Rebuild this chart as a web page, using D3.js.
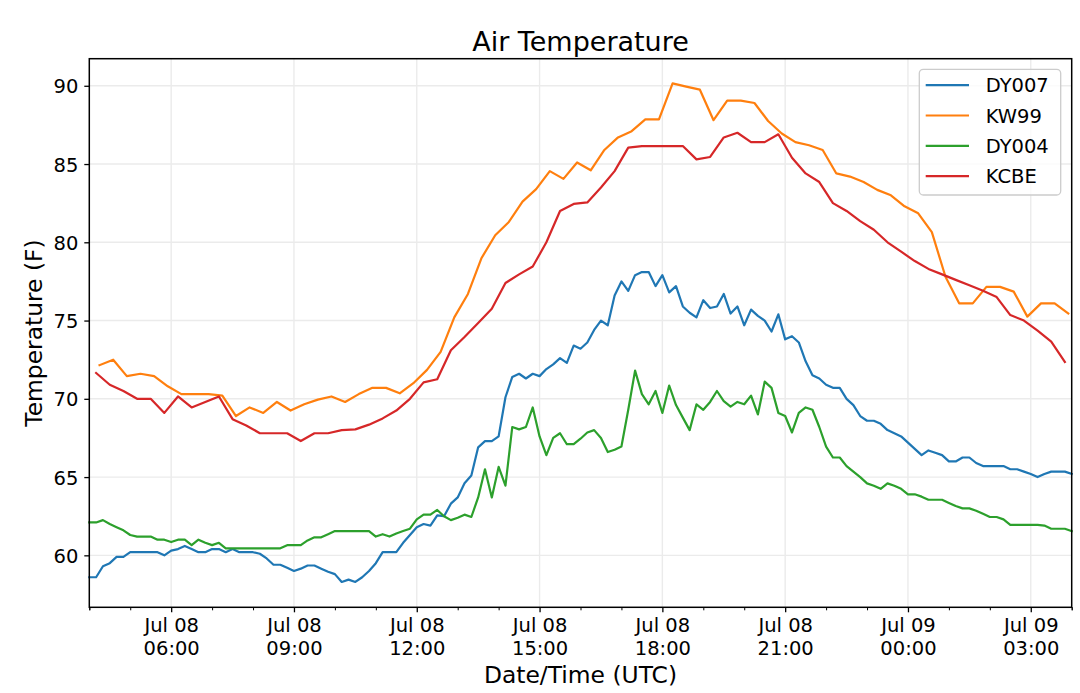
<!DOCTYPE html>
<html>

<head>
    <meta charset="UTF-8" />
    <title>Air Temperature</title>
    <style>
        body {
            margin: 0;
            padding: 0;
            background-color: white;
            font-family: 'DejaVu Sans', sans-serif;
        }

        .grid line {
            stroke: #ebebeb;
            stroke-width: 1.4;
        }

        .tick text {
            font-size: 19.5px;
            fill: black;
        }
    </style>
</head>

<body>

    <svg id="chart" width="1080" height="693"></svg>

    <script src="https://cdnjs.cloudflare.com/ajax/libs/d3/7.8.5/d3.min.js"></script>

    <script>
        const seriesNames = ['DY007', 'KW99', 'DY004', 'KCBE']
        const seriesColors = ['#1f77b4', '#ff7f0e', '#2ca02c', '#d62728']

        // 10-minute stations, first reading Jul 08 04:00 UTC
        const dy007 = [
            58.6, 58.6, 59.3, 59.5, 59.9, 59.9, 60.2, 60.2, 60.2, 60.2, 60.2, 60.0,
            60.3, 60.4, 60.6, 60.4, 60.2, 60.2, 60.4, 60.4, 60.2, 60.4, 60.2, 60.2,
            60.2, 60.1, 59.8, 59.4, 59.4, 59.2, 59.0, 59.15, 59.35, 59.35, 59.15, 58.95,
            58.8, 58.3, 58.45, 58.3, 58.6, 59.0, 59.5, 60.2, 60.2, 60.2, 60.8, 61.3,
            61.8, 62.0, 61.9, 62.55, 62.5, 63.3, 63.7, 64.6, 65.1, 66.9, 67.3, 67.3,
            67.6, 70.1, 71.4, 71.6, 71.3, 71.6, 71.45, 71.9, 72.2, 72.6, 72.3, 73.4,
            73.2, 73.6, 74.4, 75.0, 74.7, 76.6, 77.5, 76.9, 77.9, 78.1, 78.1, 77.2,
            77.9, 76.8, 77.2, 75.9, 75.5, 75.2, 76.3, 75.8, 75.9, 76.7, 75.45, 75.9,
            74.7, 75.7, 75.3, 75.0, 74.3, 75.4, 73.8, 74.0, 73.6, 72.4, 71.5, 71.3,
            70.9, 70.7, 70.7, 70.0, 69.6, 68.9, 68.6, 68.6, 68.4, 68.0, 67.8, 67.6,
            67.2, 66.8, 66.4, 66.7, 66.55, 66.4, 66.0, 66.0, 66.25, 66.25, 65.9, 65.7,
            65.7, 65.7, 65.7, 65.5, 65.5, 65.35, 65.2, 65.0, 65.2, 65.35, 65.35, 65.35,
            65.2
        ]
        const dy004 = [
            62.1, 62.1, 62.25, 62.0, 61.8, 61.6, 61.3, 61.2, 61.2, 61.2, 61.0, 61.0,
            60.85, 61.0, 61.0, 60.65, 61.0, 60.8, 60.65, 60.8, 60.45, 60.45, 60.45, 60.45,
            60.45, 60.45, 60.45, 60.45, 60.45, 60.65, 60.65, 60.65, 60.95, 61.15, 61.15, 61.35,
            61.55, 61.55, 61.55, 61.55, 61.55, 61.55, 61.2, 61.35, 61.2, 61.4, 61.55, 61.7,
            62.3, 62.6, 62.6, 62.9, 62.5, 62.25, 62.4, 62.6, 62.45, 63.7, 65.5, 63.7,
            65.65, 64.45, 68.2, 68.05, 68.2, 69.45, 67.6, 66.4, 67.5, 67.8, 67.1, 67.1,
            67.45, 67.85, 68.0, 67.5, 66.6, 66.75, 66.95, 69.3, 71.8, 70.3, 69.65, 70.5,
            69.1, 70.85, 69.6, 68.8, 68.0, 69.65, 69.3, 69.8, 70.5, 69.85, 69.5, 69.8,
            69.65, 70.2, 69.0, 71.1, 70.7, 69.1, 68.9, 67.85, 69.1, 69.45, 69.3, 68.2,
            66.95, 66.25, 66.25, 65.7, 65.35, 65.0, 64.6, 64.45, 64.25, 64.6, 64.45, 64.25,
            63.9, 63.9, 63.75, 63.55, 63.55, 63.55, 63.35, 63.15, 63.0, 63.0, 62.85, 62.65,
            62.45, 62.45, 62.3, 61.95, 61.95, 61.95, 61.95, 61.95, 61.9, 61.7, 61.7, 61.7,
            61.55
        ]

        // 20-minute stations, first reading 04:15 (KW99) and 04:10 (KCBE)
        const kw99 = [
            72.15, 72.5, 71.45, 71.6, 71.45, 70.8, 70.3, 70.3, 70.3, 70.2, 68.9, 69.45,
            69.1, 69.8, 69.25, 69.65, 69.95, 70.15, 69.8, 70.3, 70.7, 70.7, 70.35, 71.0,
            71.85, 73.0, 75.2, 76.7, 79.0, 80.45, 81.3, 82.6, 83.4, 84.55, 84.05, 85.1,
            84.6, 85.9, 86.7, 87.1, 87.85, 87.85, 90.15, 89.95, 89.75, 87.8, 89.05, 89.05,
            88.9, 87.75, 86.95, 86.4, 86.2, 85.9, 84.4, 84.2, 83.85, 83.35, 83.0, 82.3,
            81.85, 80.65, 77.8, 76.1, 76.1, 77.15, 77.15, 76.85, 75.25, 76.1, 76.1, 75.45
        ]
        const kcbe = [
            71.65, 70.9, 70.5, 70.0, 70.0, 69.1, 70.15, 69.45, 69.8, 70.15, 68.7, 68.3,
            67.8, 67.8, 67.8, 67.3, 67.8, 67.8, 68.0, 68.05, 68.35, 68.75, 69.25, 70.0,
            71.05, 71.25, 73.1, 73.95, 74.85, 75.75, 77.4, 77.95, 78.45, 80.0, 82.0, 82.45,
            82.55, 83.5, 84.55, 86.05, 86.15, 86.15, 86.15, 86.15, 85.3, 85.45, 86.7, 87.0,
            86.4, 86.4, 86.9, 85.4, 84.4, 83.85, 82.5, 82.0, 81.35, 80.8, 80.0, 79.4,
            78.8, 78.3, 77.95, 77.6, 77.25, 76.9, 76.5, 75.35, 75.0, 74.35, 73.65, 72.35
        ]

        const seriesValues = [dy007, kw99, dy004, kcbe]
        const seriesStart = ['04:00', '04:15', '04:10', '04:10'].map((s, i) => i === 2 ? '04:00' : s)
        const seriesStep = [10, 20, 10, 20]

        const yTicks = [60, 65, 70, 75, 80, 85, 90]

        const width = 1080
        const height = 693
        const margin = { top: 58.7, right: 8.3, bottom: 85.7, left: 89.3 }
        const plotW = width - margin.left - margin.right
        const plotH = height - margin.top - margin.bottom

        const day0 = Date.UTC(2019, 6, 8)
        const toTime = hm => {
            const [h, m] = hm.split(':').map(Number)
            return day0 + (h * 60 + m) * 60000
        }

        const series = seriesNames.map((name, s) => ({
            name,
            color: seriesColors[s],
            points: seriesValues[s].map((v, i) => ({
                t: new Date(toTime(seriesStart[s]) + i * seriesStep[s] * 60000),
                v
            }))
        }))

        const x = d3.scaleUtc()
            .domain([new Date(toTime('04:00')), new Date(toTime('04:00') + 24 * 3600000)])
            .range([0, plotW])

        const y = d3.scaleLinear()
            .domain([56.68, 91.73])
            .range([plotH, 0])

        const svg = d3.select('#chart')

        svg.append('rect')
            .attr('width', width)
            .attr('height', height)
            .attr('fill', 'white')

        const g = svg.append('g')
            .attr('transform', `translate(${margin.left},${margin.top})`)

        const majorTicks = x.ticks(d3.utcHour.every(3))
        const minorTicks = x.ticks(d3.utcHour.every(1))
            .filter(d => d.getUTCHours() % 3 !== 0)

        // grid
        g.append('g').attr('class', 'grid')
            .selectAll('line')
            .data(majorTicks)
            .join('line')
            .attr('x1', d => x(d))
            .attr('x2', d => x(d))
            .attr('y1', 0)
            .attr('y2', plotH)

        g.append('g').attr('class', 'grid')
            .selectAll('line')
            .data(yTicks)
            .join('line')
            .attr('x1', 0)
            .attr('x2', plotW)
            .attr('y1', d => y(d))
            .attr('y2', d => y(d))

        // lines
        const line = d3.line()
            .x(d => x(d.t))
            .y(d => y(d.v))

        g.append('g')
            .selectAll('path')
            .data(series)
            .join('path')
            .attr('fill', 'none')
            .attr('stroke', d => d.color)
            .attr('stroke-width', 2.2)
            .attr('stroke-linejoin', 'round')
            .attr('stroke-linecap', 'square')
            .attr('d', d => line(d.points))

        // axes
        const yAxis = g.append('g')
            .call(d3.axisLeft(y).tickValues(yTicks).tickSize(5).tickPadding(6))
        yAxis.select('.domain').remove()
        yAxis.selectAll('.tick line').attr('stroke', 'black').attr('stroke-width', 1.3)
        yAxis.selectAll('.tick text')
            .attr('font-family', "'DejaVu Sans', sans-serif")
            .attr('dy', '0.36em')

        const xAxis = g.append('g')
            .attr('transform', `translate(0,${plotH})`)
            .call(d3.axisBottom(x).tickValues(majorTicks).tickSize(5).tickFormat(''))
        xAxis.select('.domain').remove()
        xAxis.selectAll('.tick line').attr('stroke', 'black').attr('stroke-width', 1.3)
        xAxis.selectAll('.tick text').remove()

        const fmtDay = d3.utcFormat('%b %d')
        const fmtHour = d3.utcFormat('%H:%M')
        const labels = xAxis.selectAll('.tick')
            .append('text')
            .attr('fill', 'black')
            .attr('text-anchor', 'middle')
            .attr('font-family', "'DejaVu Sans', sans-serif")
            .style('font-size', '19.5px')
        labels.append('tspan').attr('x', 0).attr('y', 24.4).text(d => fmtDay(d))
        labels.append('tspan').attr('x', 0).attr('y', 47.7).text(d => fmtHour(d))

        g.append('g')
            .attr('transform', `translate(0,${plotH})`)
            .call(d3.axisBottom(x).tickValues(minorTicks).tickSize(3).tickFormat(''))
            .call(a => a.select('.domain').remove())
            .selectAll('.tick line').attr('stroke', 'black').attr('stroke-width', 1)

        g.append('g')
            .attr('transform', `translate(0,${plotH})`)
            .call(d3.axisBottom(x).tickValues([x.domain()[0], x.domain()[1]]).tickSize(3).tickFormat(''))
            .call(a => a.select('.domain').remove())
            .selectAll('.tick line').attr('stroke', 'black').attr('stroke-width', 1)

        // frame
        g.append('rect')
            .attr('width', plotW)
            .attr('height', plotH)
            .attr('fill', 'none')
            .attr('stroke', 'black')
            .attr('stroke-width', 1.5)

        // titles
        svg.append('text')
            .attr('x', margin.left + plotW / 2)
            .attr('y', 51)
            .attr('text-anchor', 'middle')
            .style('font-size', '27px')
            .text('Air Temperature')

        svg.append('text')
            .attr('x', margin.left + plotW / 2)
            .attr('y', 683)
            .attr('text-anchor', 'middle')
            .style('font-size', '23.4px')
            .text('Date/Time (UTC)')

        svg.append('text')
            .attr('transform', `translate(42,${margin.top + plotH / 2}) rotate(-90)`)
            .attr('text-anchor', 'middle')
            .style('font-size', '23.4px')
            .text('Temperature (F)')

        // legend
        const legend = svg.append('g')
            .attr('transform', 'translate(919.3,69.3)')

        legend.append('rect')
            .attr('width', 141.4)
            .attr('height', 125.7)
            .attr('rx', 4)
            .attr('fill', 'white')
            .attr('fill-opacity', 0.8)
            .attr('stroke', '#cccccc')
            .attr('stroke-width', 1.3)

        const rows = legend.selectAll('g.row')
            .data(series)
            .join('g')
            .attr('class', 'row')
            .attr('transform', (d, i) => `translate(0,${15.9 + i * 30.3})`)

        rows.append('line')
            .attr('x1', 6.4)
            .attr('x2', 49.7)
            .attr('stroke', d => d.color)
            .attr('stroke-width', 2.2)

        rows.append('text')
            .attr('x', 66.4)
            .attr('dy', '0.36em')
            .style('font-size', '19.5px')
            .text(d => d.name)
    </script>
</body>

</html>
